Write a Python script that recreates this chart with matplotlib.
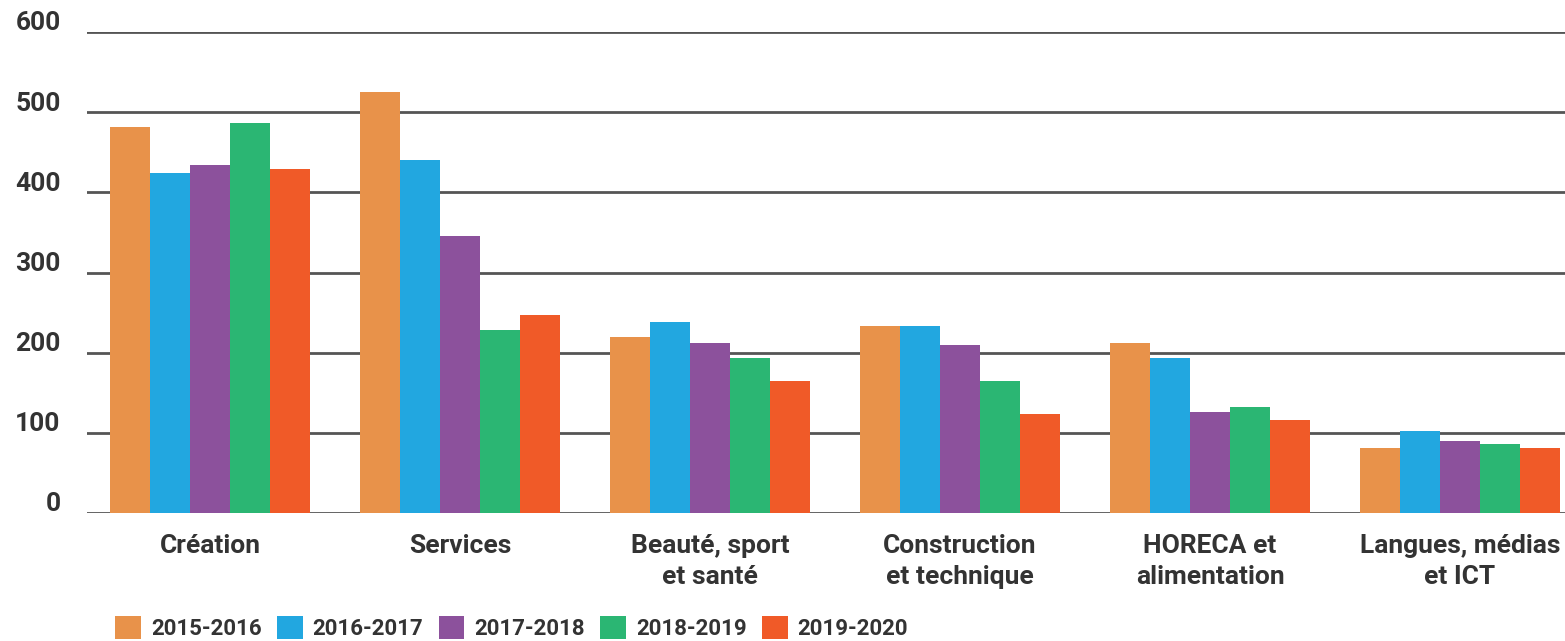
import numpy as np
import matplotlib
matplotlib.use("Agg")
import matplotlib.pyplot as plt
from matplotlib.transforms import ScaledTranslation

plt.rcParams["font.family"] = ["Roboto", "DejaVu Sans"]

categories = ["Création", "Services", "Beauté, sport\net santé",
              "Construction\net technique", "HORECA et\nalimentation",
              "Langues, médias\net ICT"]
years = ["2015-2016", "2016-2017", "2017-2018", "2018-2019", "2019-2020"]
values = {
    "2015-2016": [482, 525, 219, 233, 212, 81],
    "2016-2017": [424, 440, 238, 233, 193, 102],
    "2017-2018": [434, 345, 212, 209, 126, 90],
    "2018-2019": [487, 228, 193, 165, 132, 86],
    "2019-2020": [429, 247, 165, 123, 116, 81],
}
colors = ["#E8924A", "#22A7E0", "#8C519C", "#2BB673", "#F05A28"]
yticks = [0, 100, 200, 300, 400, 500, 600]

fig = plt.figure(figsize=(15.65, 6.41), dpi=100)
ax = fig.add_axes([87 / 1565, 128 / 641, 1 - 87 / 1565, (513 - 32) / 641])

x = np.arange(len(categories))
w = 0.16
for i, (yr, c) in enumerate(zip(years, colors)):
    ax.bar(x + (i - 2) * w, values[yr], width=w, color=c, label=yr,
           zorder=3, linewidth=0)

ax.set_ylim(0, 600)
ax.set_xlim(-0.492, 5.42)
ax.set_yticks(yticks)
ax.yaxis.grid(True, color="#555555", linewidth=2, zorder=0)
ax.set_axisbelow(True)
for s in ax.spines.values():
    s.set_visible(False)
ax.tick_params(axis="y", length=0, pad=19, labelsize=19, labelcolor="#333333")
ax.tick_params(axis="x", length=0, pad=15, labelsize=19, labelcolor="#333333")
for lab in ax.get_yticklabels():
    lab.set_fontweight("bold")
    lab.set_transform(lab.get_transform() + ScaledTranslation(0, 8 / 72, fig.dpi_scale_trans))
ax.set_xticks(x)
ax.set_xticklabels(categories, fontweight="bold", linespacing=1.38)

leg = fig.legend(loc="center", bbox_to_anchor=(0.327, 0.02), ncol=5,
                 frameon=False, handlelength=1.15, handleheight=1.2,
                 handletextpad=0.45, columnspacing=0.7,
                 prop={"weight": "bold", "size": 16})
for t in leg.get_texts():
    t.set_color("#333333")

fig.savefig("out.png", dpi=100)
